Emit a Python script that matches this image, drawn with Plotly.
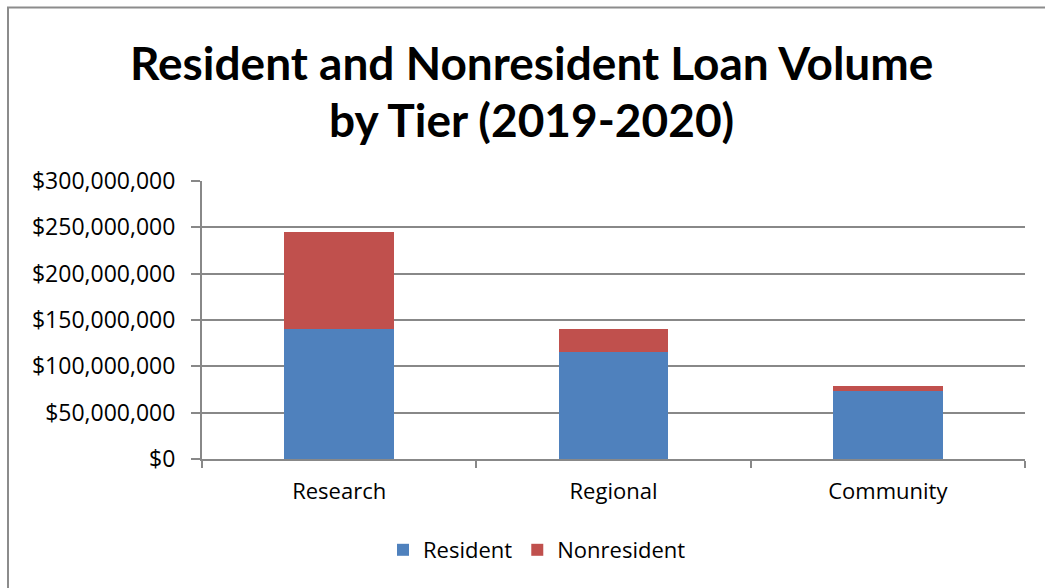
import plotly.graph_objects as go

tiers = ["Research", "Regional", "Community"]
resident = [140_000_000, 116_000_000, 73_000_000]
nonresident = [105_000_000, 24_000_000, 5_500_000]
y_ticks = [0, 50_000_000, 100_000_000, 150_000_000, 200_000_000, 250_000_000, 300_000_000]
y_tick_labels = ["$0", "$50,000,000", "$100,000,000", "$150,000,000",
                 "$200,000,000", "$250,000,000", "$300,000,000"]
title_lines = ["Resident and Nonresident Loan Volume", "by Tier (2019-2020)"]

FONT = "Open Sans, sans-serif"
TITLE_FONT = "Lato, Open Sans, sans-serif"
GRID = "#888888"

fig = go.Figure()
fig.add_trace(go.Bar(x=tiers, y=resident, name="Resident",
                     marker=dict(color="#4F81BD", line=dict(width=0))))
fig.add_trace(go.Bar(x=tiers, y=nonresident, name="Nonresident",
                     marker=dict(color="#C0504D", line=dict(width=0))))

W, H = 1045, 588
ml, mr, mt, mb = 202, 20, 181, 129
pw, ph = W - ml - mr, H - mt - mb


def py(px_from_top):
    """Convert a pixel row (from the top of the page) to paper y."""
    return (H - mb - px_from_top) / ph


def px(px_from_left):
    return (px_from_left - ml) / pw


fig.update_layout(
    width=W, height=H,
    barmode="stack", bargap=0.6,
    plot_bgcolor="white", paper_bgcolor="white",
    margin=dict(l=ml, r=mr, t=mt, b=mb, autoexpand=False),
    font=dict(family=FONT, size=22, color="#000000"),
    legend=dict(orientation="h", x=px(537), xanchor="center", y=py(550), yanchor="middle",
                font=dict(size=22), traceorder="normal"),
    xaxis=dict(showgrid=False, showline=True, linecolor=GRID, linewidth=2,
               ticks="outside", tickson="boundaries", ticklen=7, tickcolor=GRID,
               tickwidth=2, tickfont=dict(size=22), ticklabelstandoff=12),
    yaxis=dict(range=[0, 300_000_000], tickvals=y_ticks, ticktext=y_tick_labels,
               showgrid=True, gridcolor=GRID, gridwidth=2,
               showline=True, linecolor=GRID, linewidth=2,
               ticks="outside", ticklen=9, tickcolor=GRID, tickwidth=2,
               tickfont=dict(size=23), zeroline=False, ticklabelstandoff=11),
)

# two-line bold title
for line, row in zip(title_lines, [62, 119]):
    fig.add_annotation(text=f"<b>{line}</b>", xref="paper", yref="paper",
                       x=px(531), y=py(row), xanchor="center", yanchor="middle",
                       showarrow=False,
                       font=dict(family=TITLE_FONT, size=46, color="#000000"))

# outer chart frame
fig.add_shape(type="rect", xref="paper", yref="paper",
              x0=px(8), x1=px(1060), y0=py(600), y1=py(7.5),
              line=dict(color="#8C8C8C", width=2), fillcolor="rgba(0,0,0,0)",
              layer="below")

fig.write_html("out.html")
